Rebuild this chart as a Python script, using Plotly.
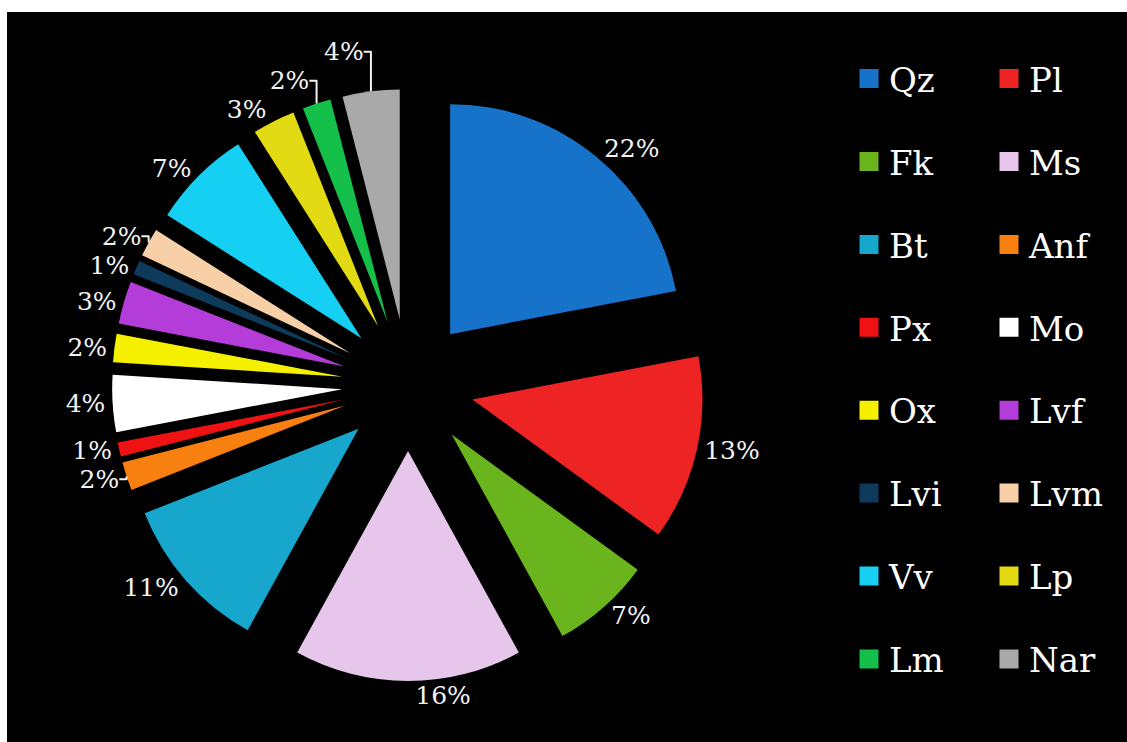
import plotly.graph_objects as go

# ---- data ----
labels = ["Qz", "Pl", "Fk", "Ms", "Bt", "Anf", "Px", "Mo",
          "Ox", "Lvf", "Lvi", "Lvm", "Vv", "Lp", "Lm", "Nar"]
values = [22, 13, 7, 16, 11, 2, 1, 4, 2, 3, 1, 2, 7, 3, 2, 4]
colors = ["#1772C9", "#EE2424", "#6AB41E", "#E6C6EA", "#17A7CD", "#F78010",
          "#F01212", "#FFFFFF", "#F4F000", "#B43CD8", "#0E3A5C", "#F8D0A8",
          "#16D0F4", "#E2DA12", "#14C04A", "#A9A9A9"]

W, H = 1127, 742
SERIF = "DejaVu Serif"

fig = go.Figure()

fig.add_trace(go.Pie(
    labels=labels,
    values=values,
    sort=False,
    direction="clockwise",
    rotation=0,
    pull=0.287,
    marker=dict(colors=colors, line=dict(width=0)),
    textposition="outside",
    texttemplate="%{percent:.0%}",
    textfont=dict(family=SERIF, size=25, color="#F2F2F2"),
    domain=dict(x=[0.0994, 0.6247], y=[0.0822, 0.880]),
    showlegend=False,
    hoverinfo="label+percent",
))

# legend entries (two columns -> two legends)
for i, (lab, col) in enumerate(zip(labels, colors)):
    fig.add_trace(go.Scatter(
        x=[None], y=[None], mode="markers", name=lab,
        marker=dict(symbol="square", size=16, color=col, line=dict(width=3, color=col)),
        legend="legend" if i % 2 == 0 else "legend2",
        legendgroup=lab, showlegend=True, hoverinfo="skip",
    ))

def legend_cfg(xpx):
    return dict(
        x=xpx / W, xanchor="left", yanchor="top", y=1 - 50 / H,
        font=dict(family=SERIF, size=34, color="#FFFFFF"),
        bgcolor="rgba(0,0,0,0)", borderwidth=0,
        tracegroupgap=35.7, itemsizing="trace", orientation="v",
    )

fig.update_layout(
    width=W, height=H,
    font=dict(family=SERIF, color="#FFFFFF"),
    margin=dict(l=0, r=0, t=0, b=0, autoexpand=False),
    paper_bgcolor="#000000",
    plot_bgcolor="#000000",
    xaxis=dict(visible=False),
    yaxis=dict(visible=False),
    legend=legend_cfg(849),
    legend2=legend_cfg(989),
    shapes=[
        dict(type="rect", xref="paper", yref="paper", x0=0, x1=1, y0=1 - 12 / H, y1=1,
             fillcolor="#FFFFFF", line=dict(width=0), layer="above"),
        dict(type="rect", xref="paper", yref="paper", x0=0, x1=7 / W, y0=0, y1=1,
             fillcolor="#FFFFFF", line=dict(width=0), layer="above"),
    ],
)

fig.write_html("out.html")
